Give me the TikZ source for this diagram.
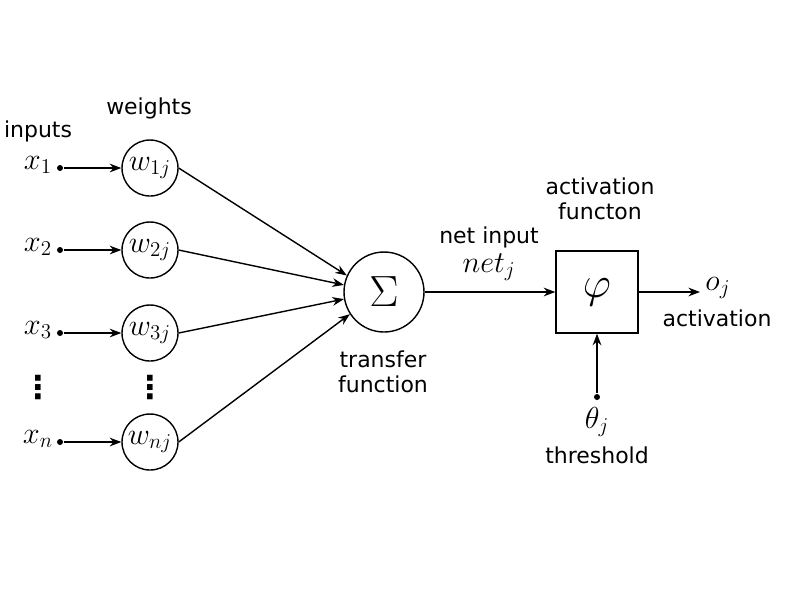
\documentclass[tikz,border=0pt]{standalone}
\usepackage{fontspec}
\setmainfont{DejaVu Sans}
\usetikzlibrary{arrows.meta}

\begin{document}
\begin{tikzpicture}[x=0.02cm, y=-0.02cm, >=Stealth, line width=0.8pt,
  font=\fontsize{12.5}{14.5}\selectfont,
  wt/.style={draw, circle, minimum size=1.12cm, inner sep=0pt, font=\fontsize{17}{17}\selectfont},
  inp/.style={inner sep=1pt, font=\fontsize{18}{18}\selectfont},
  vd/.style={inner sep=0pt, font=\fontsize{18}{18}\selectfont\bfseries},
  dot/.style={circle, fill, inner sep=0pt, minimum size=0.12cm},
  lbl/.style={align=center, inner sep=1pt}]
  \useasboundingbox (0,0) rectangle (800,600);
  % inputs and weights
  \node[lbl] (inputs) at (38,131) {inputs};
  \node[lbl] (weights) at (149,108) {weights};
  \node[inp] (x1) at (38,165) {$x_1$};
  \node[inp] (x2) at (38,247) {$x_2$};
  \node[inp] (x3) at (38,330) {$x_3$};
  \node[inp] (xn) at (38,439) {$x_n$};
  \node[vd] (xd) at (38,387) {⋮};
  \node[dot] (d1) at (60,168) {};
  \node[dot] (d2) at (60,250) {};
  \node[dot] (d3) at (60,333) {};
  \node[dot] (dn) at (60,442) {};
  \node[wt] (w1) at (150,168) {$w_{1j}$};
  \node[wt] (w2) at (150,250) {$w_{2j}$};
  \node[wt] (w3) at (150,333) {$w_{3j}$};
  \node[wt] (wn) at (150,442) {$w_{nj}$};
  \node[vd] (wd) at (150,387) {⋮};
  \draw[->] (d1) -- (w1); \draw[->] (d2) -- (w2); \draw[->] (d3) -- (w3); \draw[->] (dn) -- (wn);
  % transfer function
  \node[draw, circle, minimum size=1.6cm, inner sep=0pt, font=\fontsize{26}{26}\selectfont] (sum) at (384,292) {$\Sigma$};
  \node[lbl] (tf) at (383,372) {transfer\\function};
  \draw[->] (w1.east) -- (sum.156); \draw[->] (w2.east) -- (sum.170);
  \draw[->] (w3.east) -- (sum.190); \draw[->] (wn.east) -- (sum.213);
  % activation
  \node[draw, minimum size=1.64cm, inner sep=0pt, font=\fontsize{30}{30}\selectfont] (act) at (597,292) {$\varphi$};
  \node[lbl] (af) at (600,199) {activation\\functon};
  \node[lbl] (ni) at (489,237) {net input};
  \node[inp] (net) at (489,267) {$net_j$};
  \draw[->] (sum) -- (act);
  \coordinate (out) at (700,292);
  \node[inp, anchor=west] (oj) at (703,288) {$o_j$};
  \node[lbl] (av) at (717,318) {activation};
  \draw[->] (act) -- (out);
  \node[dot] (dt) at (597,397) {};
  \node[inp] (th) at (597,422) {$\theta_j$};
  \node[lbl] (thr) at (597,455) {threshold};
  \draw[->] (dt) -- (act);
\end{tikzpicture}
\end{document}
